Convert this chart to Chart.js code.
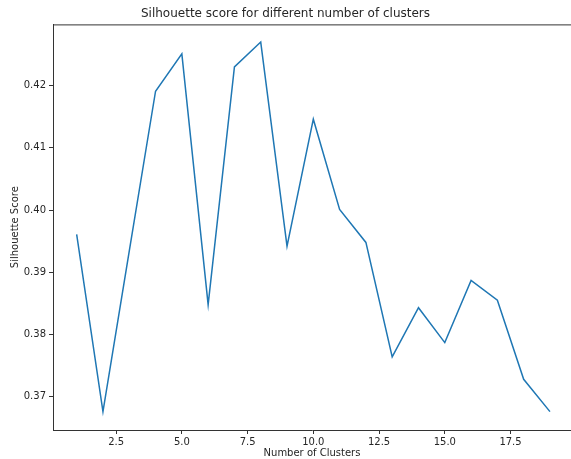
<!DOCTYPE html>
<html>
<head>
<meta charset="utf-8">
<script src="https://cdn.jsdelivr.net/npm/chart.js@4/dist/chart.umd.min.js"></script>
<style>
  html, body { margin: 0; padding: 0; background: #fff; overflow: hidden; }
  #chart_plot { display: block; }
</style>
</head>
<body>
<canvas id="chart_plot" width="571" height="459"></canvas>
<script>
// number of clusters tried and the silhouette score for each
const clusters = [1, 2, 3, 4, 5, 6, 7, 8, 9, 10, 11, 12, 13, 14, 15, 16, 17, 18, 19];
const scores = [0.3961, 0.3676, 0.3934, 0.4191, 0.4251, 0.3848, 0.4230, 0.4270, 0.3942, 0.4146,
                0.4001, 0.3948, 0.3764, 0.3843, 0.3787, 0.3887, 0.3855, 0.3728, 0.3676];
const xTicks = [2.5, 5.0, 7.5, 10.0, 12.5, 15.0, 17.5];
const yTicks = [0.37, 0.38, 0.39, 0.40, 0.41, 0.42];

let points = [];
clusters.forEach(function(c, i) {
    points.push({ x: c, y: scores[i] });
});

const textColor = '#262626';
const spineColor = '#333';
const font = { family: 'DejaVu Sans', size: 10 };

// matplotlib draws a top spine too
const topSpine = {
    id: 'topSpine',
    afterDraw: function(chart) {
        const a = chart.chartArea;
        const ctx = chart.ctx;
        ctx.save();
        ctx.strokeStyle = spineColor;
        ctx.lineWidth = 1;
        ctx.beginPath();
        ctx.moveTo(a.left, a.top + 0.5);
        ctx.lineTo(a.right, a.top + 0.5);
        ctx.stroke();
        ctx.restore();
    }
};

new Chart(document.getElementById('chart_plot'), {
    type: 'line',
    data: {
        datasets: [{
            data: points,
            borderColor: '#1f77b4',
            borderWidth: 1.5,
            pointRadius: 0,
            tension: 0,
            fill: false
        }]
    },
    options: {
        responsive: false,
        animation: false,
        devicePixelRatio: 1,
        layout: { padding: 0 },
        plugins: {
            legend: { display: false },
            tooltip: { enabled: false },
            title: {
                display: true,
                text: 'Silhouette score for different number of clusters',
                color: textColor,
                font: { family: 'DejaVu Sans', size: 12, weight: 'normal' },
                padding: { top: 7, bottom: 3 }
            }
        },
        scales: {
            x: {
                type: 'linear',
                min: 0.1,
                max: 19.8,
                afterBuildTicks: function(scale) {
                    scale.ticks = xTicks.map(function(v) { return { value: v }; });
                },
                afterFit: function(scale) { scale.height = 29; },
                ticks: {
                    color: textColor,
                    font: font,
                    padding: 2,
                    maxRotation: 0,
                    callback: function(v) { return Number(v).toFixed(1); }
                },
                grid: { drawOnChartArea: false, drawTicks: true, tickLength: 4, color: spineColor },
                border: { display: true, color: spineColor, width: 1 },
                title: {
                    display: true,
                    text: 'Number of Clusters',
                    color: textColor,
                    font: font,
                    padding: { top: 0, bottom: 0 }
                }
            },
            y: {
                type: 'linear',
                min: 0.36465,
                max: 0.42984,
                afterBuildTicks: function(scale) {
                    scale.ticks = yTicks.map(function(v) { return { value: v }; });
                },
                afterFit: function(scale) { scale.width = 53; },
                ticks: {
                    color: textColor,
                    font: font,
                    padding: 3,
                    callback: function(v) { return Number(v).toFixed(2); }
                },
                grid: { drawOnChartArea: false, drawTicks: true, tickLength: 4, color: spineColor },
                border: { display: true, color: spineColor, width: 1 },
                title: {
                    display: true,
                    text: 'Silhouette Score',
                    color: textColor,
                    font: font,
                    padding: { top: 9, bottom: 0 }
                }
            }
        }
    },
    plugins: [topSpine]
});
</script>
</body>
</html>
